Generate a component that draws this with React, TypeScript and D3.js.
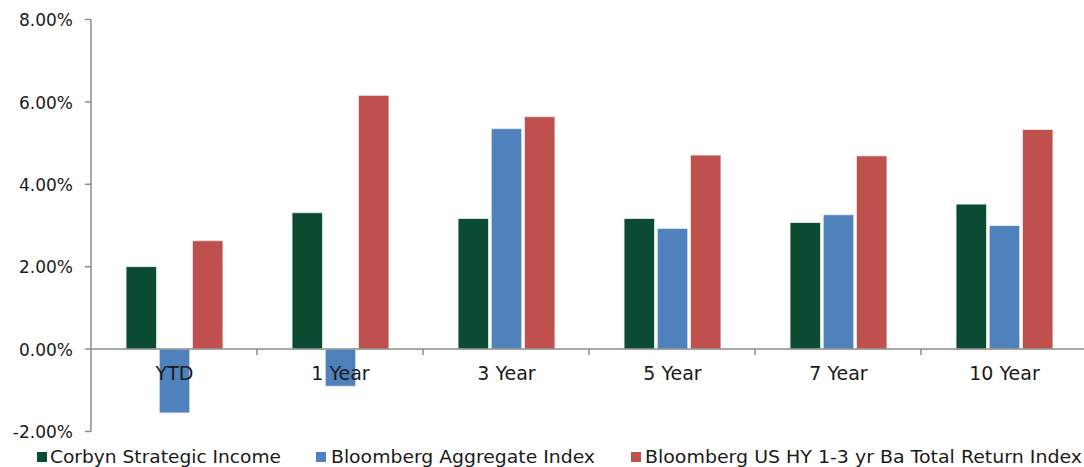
import React from "react";
import * as d3 from "d3";

const categories = ["YTD", "1 Year", "3 Year", "5 Year", "7 Year", "10 Year"];
const seriesNames = [
  "Corbyn Strategic Income",
  "Bloomberg Aggregate Index",
  "Bloomberg US HY 1-3 yr Ba Total Return Index",
];
const corbyn = [2.0, 3.31, 3.17, 3.17, 3.07, 3.52];
const aggregate = [-1.55, -0.9, 5.35, 2.93, 3.26, 3.0];
const hy = [2.63, 6.16, 5.64, 4.71, 4.69, 5.33];
const yTicks = [-2, 0, 2, 4, 6, 8];
const colors = ["#0B4B31", "#4F81BD", "#C0504D"];

const W = 1084;
const H = 467;
const FONT = "'DejaVu Sans', Verdana, sans-serif";

export default function App() {
  const series = [corbyn, aggregate, hy];
  const x0 = 91;
  const x1 = 1087;
  const x = d3.scaleBand<string>().domain(categories).range([x0, x1]).paddingInner(0).paddingOuter(0);
  const y = d3.scaleLinear().domain([-2, 8]).range([431.5, 19.5]);
  const bw = 30.5;
  const gap = 2.7;
  const groupW = bw * 3 + gap * 2;
  const axisColor = "#8c8c8c";

  const legendItems = [
    { sq: 37, tx: 50, tl: 231 },
    { sq: 316, tx: 331, tl: 264 },
    { sq: 631, tx: 645, tl: 437 },
  ];

  return (
    <svg width={W} height={H} style={{ position: "absolute", left: 0, top: 0, background: "#fff" }}>
      {/* bars */}
      {categories.map((c, i) => {
        const cx = (x(c) as number) + x.bandwidth() / 2 + 0.5;
        const start = cx - groupW / 2;
        return series.map((s, k) => {
          const v = s[i];
          const yTop = y(Math.max(0, v));
          const yBot = y(Math.min(0, v));
          return (
            <rect
              key={c + k}
              x={start + k * (bw + gap)}
              y={yTop}
              width={bw}
              height={yBot - yTop}
              fill={colors[k]}
              stroke="#e8eef4"
              strokeWidth={0.8}
            />
          );
        });
      })}
      {/* y axis */}
      <line x1={x0} x2={x0} y1={y(8)} y2={y(-2)} stroke={axisColor} strokeWidth={1.5} />
      {yTicks.map((t) => (
        <g key={t}>
          <line x1={x0 - 6} x2={x0} y1={y(t)} y2={y(t)} stroke={axisColor} strokeWidth={1.5} />
          <text
            x={73}
            y={y(t) + 0.5}
            dy="0.36em"
            textAnchor="end"
            fontFamily={FONT}
            fontSize={17}
            fill="#1a1a1a"
          >
            {t.toFixed(2) + "%"}
          </text>
        </g>
      ))}
      {/* zero baseline */}
      <line x1={x0} x2={W} y1={y(0)} y2={y(0)} stroke={axisColor} strokeWidth={1.5} />
      {categories.slice(1).map((c) => (
        <line
          key={"t" + c}
          x1={x(c) as number}
          x2={x(c) as number}
          y1={y(0)}
          y2={y(0) + 6}
          stroke={axisColor}
          strokeWidth={1.5}
        />
      ))}
      {categories.map((c) => (
        <text
          key={"l" + c}
          x={(x(c) as number) + x.bandwidth() / 2 + 0.5}
          y={373.5}
          dy="0.36em"
          textAnchor="middle"
          fontFamily={FONT}
          fontSize={19}
          fill="#1a1a1a"
        >
          {c}
        </text>
      ))}
      {/* legend */}
      {seriesNames.map((n, k) => (
        <g key={n}>
          <rect x={legendItems[k].sq} y={452} width={10} height={10} fill={colors[k]} />
          <text
            x={legendItems[k].tx}
            y={457}
            dy="0.36em"
            fontFamily={FONT}
            fontSize={18}
            fill="#1a1a1a"
            textLength={legendItems[k].tl}
            lengthAdjust="spacingAndGlyphs"
          >
            {n}
          </text>
        </g>
      ))}
    </svg>
  );
}
